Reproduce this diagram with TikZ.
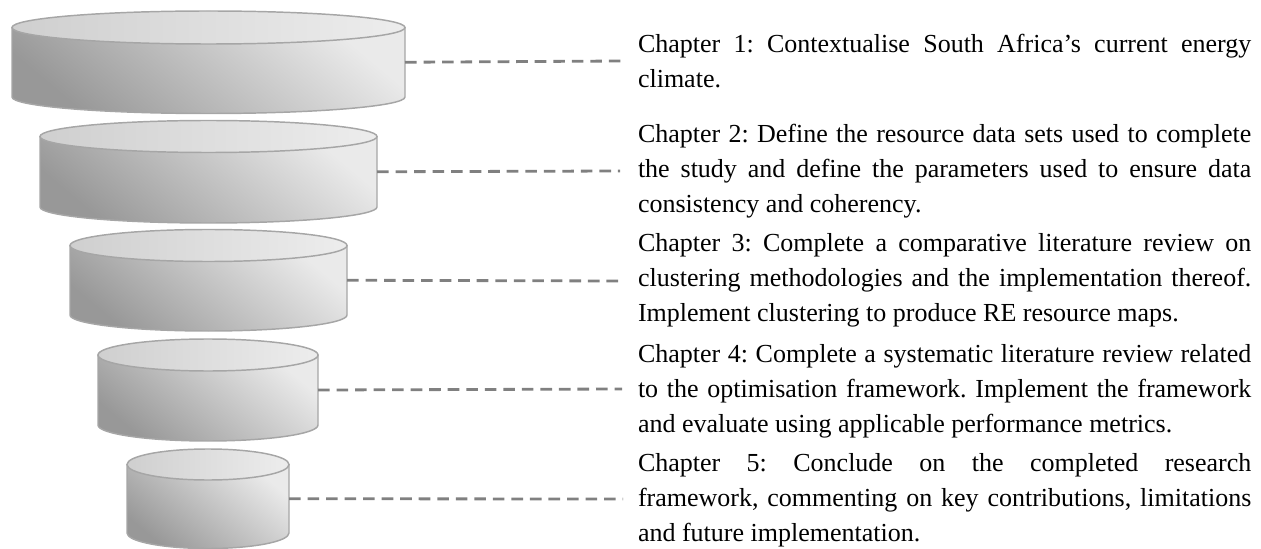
\documentclass[tikz,border=0pt]{standalone}
\usepackage{fontspec}
\setmainfont{Liberation Serif}
\frenchspacing
\definecolor{rimgray}{HTML}{A6A6A6}
\definecolor{dashgray}{HTML}{808080}
\definecolor{bodydark}{HTML}{989898}
\definecolor{bodylight}{HTML}{EAEAEA}
\definecolor{capdark}{HTML}{CFCFCF}
\definecolor{caplight}{HTML}{EDEDED}
\tikzset{
  drumbody/.style={draw=rimgray, line width=1.1pt, line join=round,
    top color=bodylight, bottom color=bodydark, shading angle=-40},
  drumcap/.style={draw=rimgray, line width=1.1pt,
    left color=capdark, right color=caplight},
  leader/.style={draw=dashgray, line width=2.1pt, dash pattern=on 8.7pt off 5.2pt},
  chaptertext/.style={anchor=base west, inner sep=0pt, outer sep=0pt,
    text width=460pt, align=justify,
    font=\fontsize{19.5}{26.25}\selectfont},
}
% one drum of the funnel: #1 name of its right-hand anchor, #2 centre x,
% #3 half width, #4 y of the top rim, #5 y of the bottom rim, #6 rim radius
\newcommand\funneldrum[6]{%
  \pgfmathsetmacro\dxl{#2-#3}%
  \pgfmathsetmacro\dxr{#2+#3}%
  \pgfmathsetmacro\kx{0.5523*#3}%
  \pgfmathsetmacro\ky{0.5523*#6}%
  \path[drumbody] (\dxl,#4) -- (\dxl,#5)
    .. controls (\dxl,#5+\ky) and (#2-\kx,#5+#6) .. (#2,#5+#6)
    .. controls (#2+\kx,#5+#6) and (\dxr,#5+\ky) .. (\dxr,#5)
    -- (\dxr,#4) -- cycle;
  \path[drumcap] (\dxl,#4)
    .. controls (\dxl,#4-\ky) and (#2-\kx,#4-#6) .. (#2,#4-#6)
    .. controls (#2+\kx,#4-#6) and (\dxr,#4-\ky) .. (\dxr,#4)
    .. controls (\dxr,#4+\ky) and (#2+\kx,#4+#6) .. (#2,#4+#6)
    .. controls (#2-\kx,#4+#6) and (\dxl,#4+\ky) .. cycle;
  \coordinate (#1) at (\dxr,{(#4+#5)/2});
}
\begin{document}
\begin{tikzpicture}[x=0.75pt, y=-0.75pt]
\useasboundingbox (0,0) rectangle (1261,549);

% the funnel of drums
\funneldrum{d1}{208.5}{196.5}{27.5}{97}{16.5}
\funneldrum{d2}{208.5}{168.5}{136.5}{207}{16}
\funneldrum{d3}{208.5}{138.5}{245.5}{315}{16}
\funneldrum{d4}{208}{110}{355}{425}{16}
\funneldrum{d5}{208}{81}{464.5}{533}{15.5}

% free ends of the leader lines
\coordinate (e1) at (622,61);
\coordinate (e2) at (620,171);
\coordinate (e3) at (618,281);
\coordinate (e4) at (622,389);
\coordinate (e5) at (623,499);

\draw[leader] (d1) -- (e1);
\draw[leader] (d2) -- (e2);
\draw[leader] (d3) -- (e3);
\draw[leader] (d4) -- (e4);
\draw[leader] (d5) -- (e5);

% chapter descriptions
\node[chaptertext] (t1) at (638,53) {Chapter 1: Contextualise South Africa’s current energy\linebreak climate.};
\node[chaptertext] (t2) at (638,143) {Chapter 2: Define the resource data sets used to complete\linebreak the study and define the parameters used to ensure data\linebreak consistency and coherency.};
\node[chaptertext] (t3) at (638,252) {Chapter 3: Complete a comparative literature review on\linebreak clustering methodologies and the implementation thereof.\linebreak Implement clustering to produce RE resource maps.};
\node[chaptertext] (t4) at (638,362) {Chapter 4: Complete a systematic literature review related\linebreak to the optimisation framework. Implement the framework\linebreak and evaluate using applicable performance metrics.};
\node[chaptertext] (t5) at (638,471) {Chapter 5: Conclude on the completed research\linebreak framework, commenting on key contributions, limitations\linebreak and future implementation.};
\end{tikzpicture}
\end{document}
